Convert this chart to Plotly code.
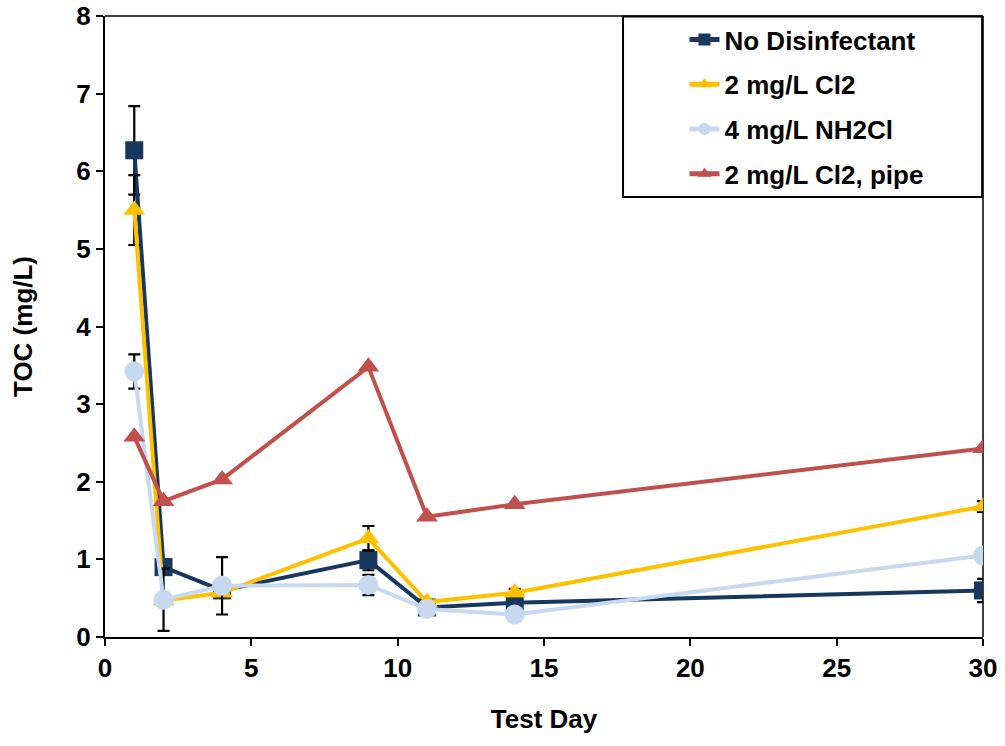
import plotly.graph_objects as go

days = [1, 2, 4, 9, 11, 14, 30]

no_dis = [6.27, 0.90, 0.60, 0.99, 0.38, 0.44, 0.60]
no_dis_err = [0.57, 0.10, 0.05, 0.13, 0.03, 0.03, 0.15]

cl2 = [5.50, 0.47, 0.57, 1.27, 0.45, 0.57, 1.68]
cl2_err = [0.45, 0.05, 0.05, 0.16, 0.03, 0.05, 0.07]

nh2cl = [3.42, 0.48, 0.66, 0.67, 0.36, 0.29, 1.05]
nh2cl_err = [0.22, 0.40, 0.37, 0.13, 0.03, 0.03, 0.05]

cl2_pipe = [2.58, 1.75, 2.03, 3.48, 1.55, 1.71, 2.43]

names = ["No Disinfectant", "2 mg/L Cl2", "4 mg/L NH2Cl", "2 mg/L Cl2, pipe"]
colors = ["#17375E", "#FFC000", "#C6D9F1", "#C0504D"]
symbols = ["square", "triangle-up", "circle", "triangle-up"]
msizes = [18, 19, 20, 19]

series = [no_dis, cl2, nh2cl, cl2_pipe]
errs = [no_dis_err, cl2_err, nh2cl_err, None]

fig = go.Figure()
for i, (name, y, e, c, s, ms) in enumerate(zip(names, series, errs, colors, symbols, msizes)):
    kw = {}
    if e is not None:
        kw["error_y"] = dict(type="data", array=e, visible=True, color="black",
                             thickness=2.2, width=6)
    fig.add_trace(go.Scatter(
        x=days, y=y, name="<b>" + name + "</b>", mode="lines+markers",
        legendgroup="g%d" % i,
        line=dict(color=c, width=4),
        marker=dict(symbol=s, size=ms, color=c),
        **kw))

font = dict(family="Liberation Sans, Arial, sans-serif", color="black")

fig.update_layout(
    width=1005, height=746,
    margin=dict(l=105, r=22, t=16, b=109),
    plot_bgcolor="white", paper_bgcolor="white",
    font=dict(**font, size=25),
    showlegend=True,
    legend=dict(
        x=0.66, y=1.0, xanchor="left", yanchor="top",
        borderwidth=0, bgcolor="rgba(0,0,0,0)",
        font=dict(**font, size=26),
        tracegroupgap=8, itemsizing="constant",
    ),
    xaxis=dict(
        range=[0, 30], tickvals=[0, 5, 10, 15, 20, 25, 30],
        ticktext=["<b>%d</b>" % v for v in [0, 5, 10, 15, 20, 25, 30]],
        showline=True, linecolor="black", linewidth=2,
        ticks="outside", ticklen=7, tickwidth=2, tickcolor="black",
        showgrid=False, zeroline=False, automargin=False,
        title=dict(text="<b>Test Day</b>", font=dict(**font, size=26), standoff=28),
        tickfont=dict(**font, size=26),
    ),
    yaxis=dict(
        range=[0, 8], tickvals=list(range(9)),
        ticktext=["<b>%d</b>" % v for v in range(9)],
        showline=True, linecolor="black", linewidth=2,
        ticks="outside", ticklen=7, tickwidth=2, tickcolor="black",
        showgrid=False, zeroline=False, automargin=False,
        title=dict(text="<b>TOC (mg/L)</b>", font=dict(**font, size=26), standoff=36),
        tickfont=dict(**font, size=26),
    ),
    shapes=[
        dict(type="line", xref="paper", yref="paper", x0=0, x1=1, y0=1, y1=1,
             line=dict(color="#404040", width=2), layer="below"),
        dict(type="line", xref="paper", yref="paper", x0=1, x1=1, y0=0, y1=1,
             line=dict(color="#404040", width=2), layer="below"),
        dict(type="rect", xref="paper", yref="paper", x0=0.590, x1=0.999,
             y0=0.7085, y1=0.999, line=dict(color="black", width=2),
             fillcolor="white", layer="below"),
    ],
)

fig.write_html("out.html")
